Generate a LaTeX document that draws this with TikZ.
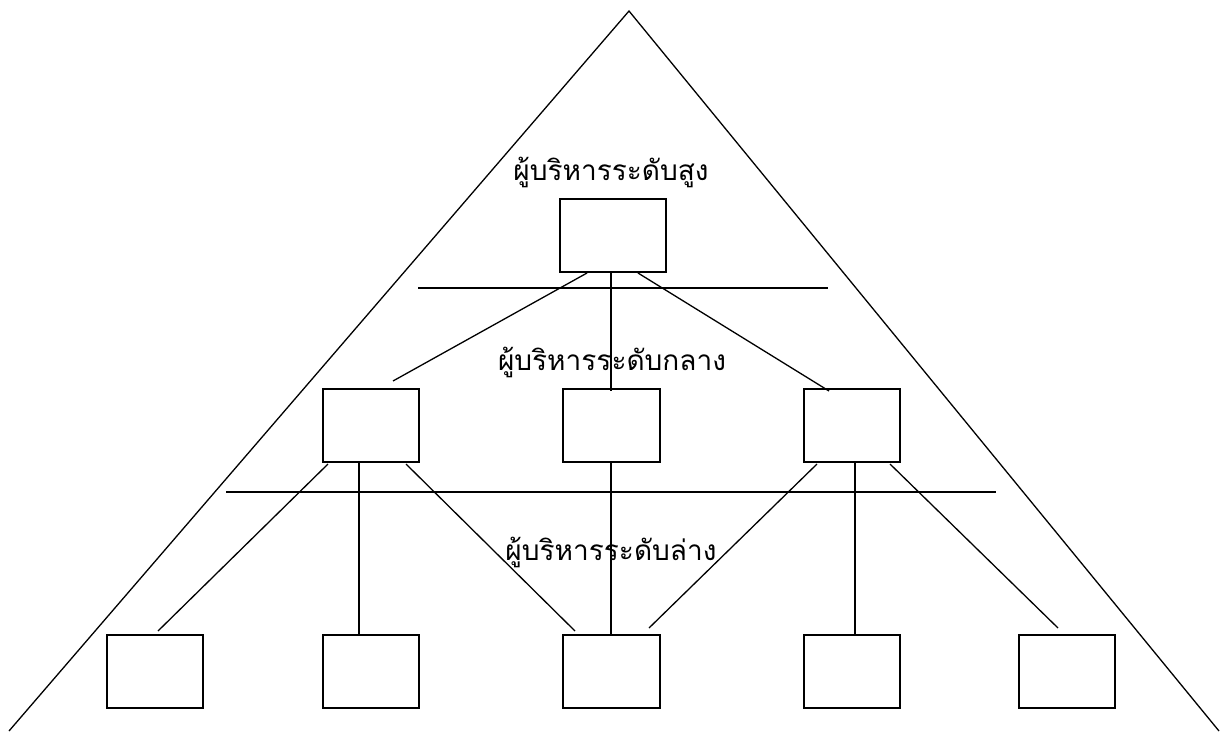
\documentclass[tikz,border=0pt]{standalone}
\usepackage{fontspec}
\newfontfamily\thaifont[Script=Thai]{Loma}
\begin{document}
\begin{tikzpicture}[x=1pt,y=-1pt,
  box/.style={draw=black,line width=2pt,minimum height=73pt,inner sep=0pt},
  conn/.style={draw=black,line width=1.3pt},
  lvl/.style={anchor=base,inner sep=0pt,font=\thaifont\fontsize{28}{32}\selectfont}]
\useasboundingbox (0,0) rectangle (1221,731);
% boxes
\node[box,minimum width=106pt] (top) at (613,235.5) {};
\node[box,minimum width=96pt] (ml) at (371,425.5) {};
\node[box,minimum width=97pt] (mc) at (611,425.5) {};
\node[box,minimum width=96pt] (mr) at (852,425.5) {};
\node[box,minimum width=96pt] (b1) at (155,671.5) {};
\node[box,minimum width=96pt] (b2) at (371,671.5) {};
\node[box,minimum width=97pt] (b3) at (611,671.5) {};
\node[box,minimum width=96pt] (b4) at (852,671.5) {};
\node[box,minimum width=96pt] (b5) at (1067,671.5) {};
% triangle
\coordinate (apex) at (629,11);
\coordinate (tl) at (9,731);
\coordinate (tr) at (1219,731);
\draw[conn] (tl) -- (apex) -- (tr);
% level lines
\coordinate (h1a) at (418,288);
\coordinate (h1b) at (828,288);
\coordinate (h2a) at (226,492);
\coordinate (h2b) at (996,492);
\draw[conn] (h1a) -- (h1b);
\draw[conn] (h2a) -- (h2b);
% labels
\node[lvl] (l1) at (611,180) {ผู้บริหารระดับสูง};
\node[lvl] (l2) at (612,370) {ผู้บริหารระดับกลาง};
\node[lvl] (l3) at (611,560) {ผู้บริหารระดับล่าง};
% connectors
\draw[conn] ([xshift=-26pt]top.south) -- ([xshift=22pt,yshift=7pt]ml.north);
\draw[conn] ([xshift=-2pt]top.south) -- ([yshift=-3pt]mc.north);
\draw[conn] ([xshift=25pt]top.south) -- ([xshift=-23pt,yshift=-3pt]mr.north);
\draw[conn] ([xshift=-43pt,yshift=-1pt]ml.south) -- ([xshift=3pt,yshift=3pt]b1.north);
\draw[conn] ([xshift=-12pt]ml.south) -- ([xshift=-12pt,yshift=-2pt]b2.north);
\draw[conn] ([xshift=35pt,yshift=-1pt]ml.south) -- ([xshift=-36pt,yshift=3pt]b3.north);
\draw[conn] (mc.south) -- ([yshift=-2pt]b3.north);
\draw[conn] ([xshift=-35pt,yshift=-1pt]mr.south) -- ([xshift=38pt,yshift=6pt]b3.north);
\draw[conn] ([xshift=3pt]mr.south) -- ([xshift=3pt,yshift=-2pt]b4.north);
\draw[conn] ([xshift=38pt,yshift=-1pt]mr.south) -- ([xshift=-9pt,yshift=6pt]b5.north);
\end{tikzpicture}
\end{document}
